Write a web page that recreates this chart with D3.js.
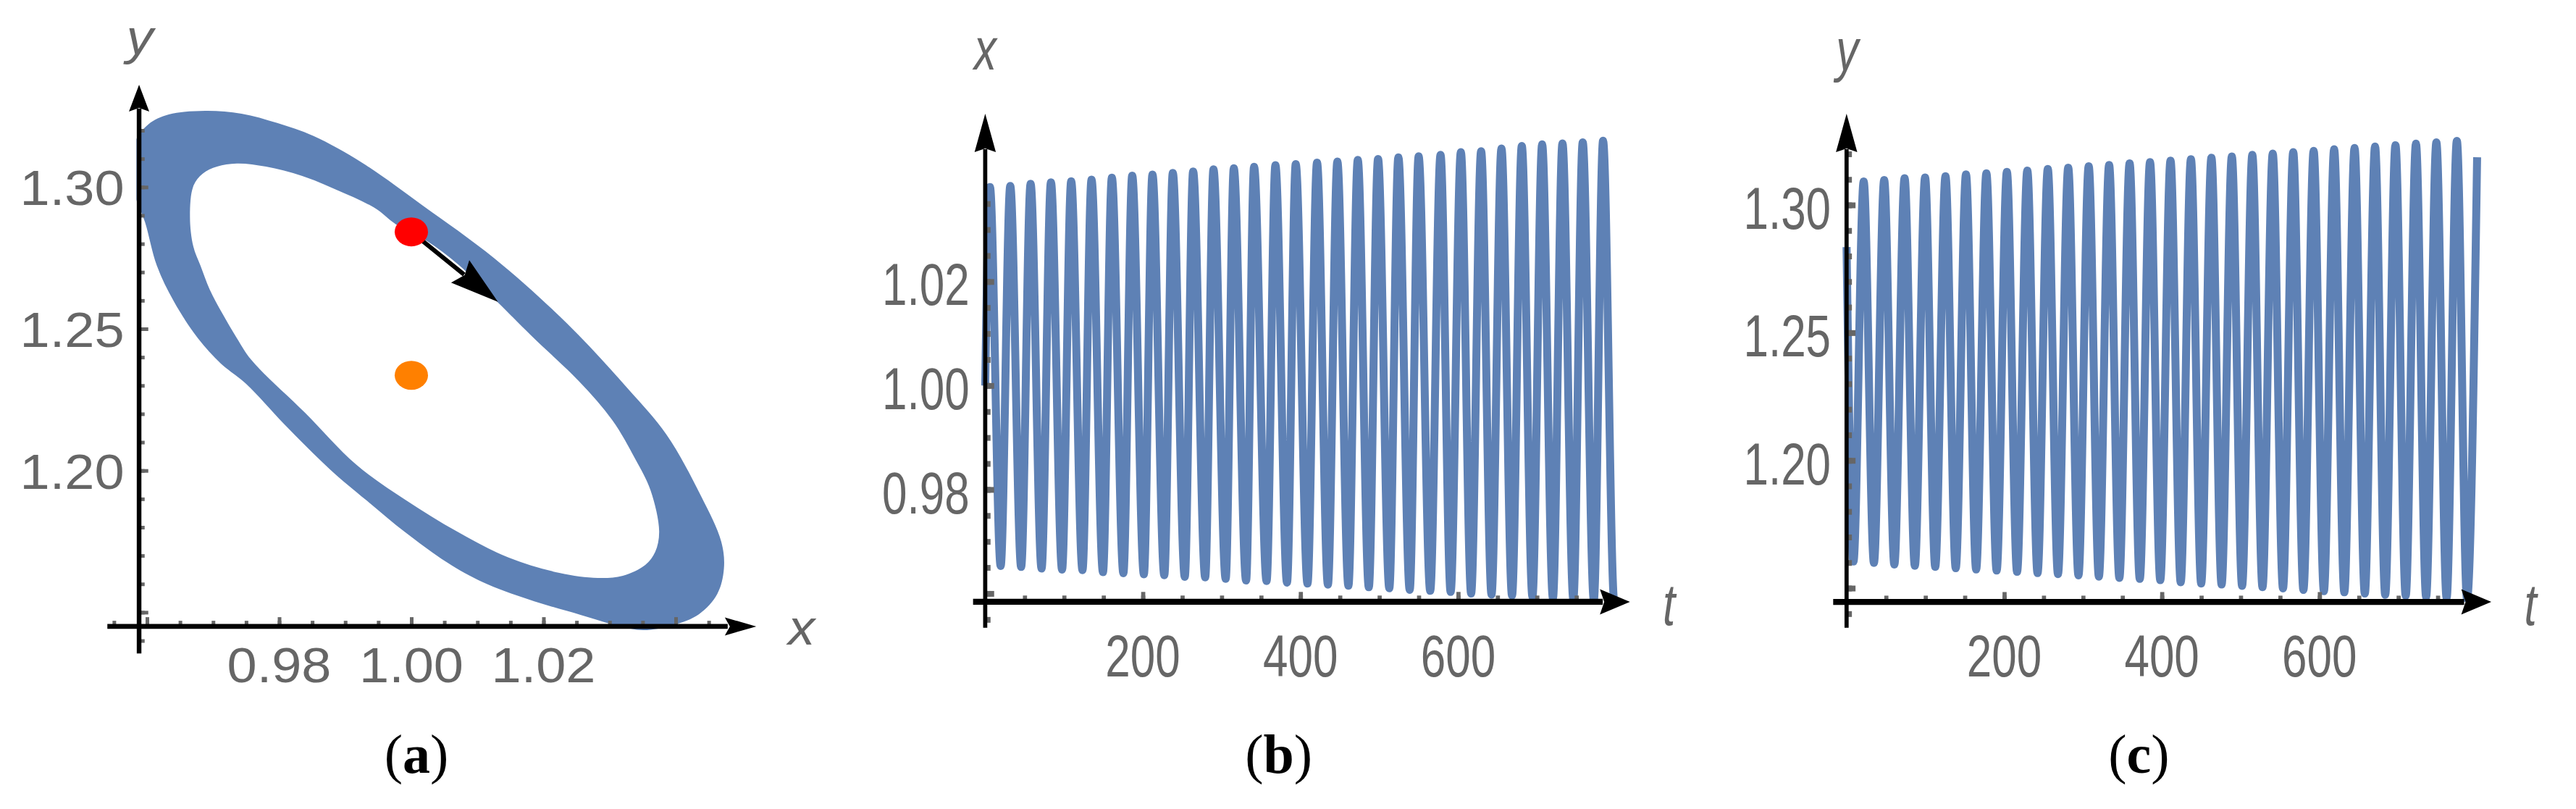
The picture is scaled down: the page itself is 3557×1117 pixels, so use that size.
<!DOCTYPE html>
<html>
<head>
<meta charset="utf-8">
<script src="https://cdn.jsdelivr.net/npm/d3@7"></script>
<style>
  body { margin: 0; background: #fff; }
  svg { display: block; }
</style>
</head>
<body>
<div class="container"></div>
<script>
// ---------------- data ----------------

// (a) phase plane: edges of the band swept out by the orbit, [x, y]
var ringOuter = [
  [0.9633,1.3256],[0.9688,1.3269],[0.9743,1.3259],[0.9797,1.3226],[0.9852,1.3180],
  [0.9926,1.3085],[1.0016,1.2937],[1.0126,1.2748],[1.0236,1.2518],[1.0328,1.2288],
  [1.0386,1.2127],[1.0438,1.1912],[1.0469,1.1749],[1.0473,1.1654],[1.0463,1.1565],
  [1.0435,1.1493],[1.0396,1.1455],[1.0351,1.1437],[1.0312,1.1453],[1.0256,1.1491],
  [1.0186,1.1539],[1.0116,1.1598],[1.0060,1.1667],[0.9992,1.1780],[0.9931,1.1897],
  [0.9877,1.2004],[0.9808,1.2163],[0.9750,1.2306],[0.9712,1.2377],[0.9677,1.2467],
  [0.9641,1.2595],[0.9615,1.2722],[0.9597,1.2876],[0.9580,1.2988],[0.9580,1.3149],
  [0.9602,1.3221]
];
var ringInner = [
  [0.9706,1.3072],[0.9736,1.3083],[0.9780,1.3072],[0.9835,1.3039],[0.9889,1.2988],
  [0.9944,1.2927],[0.9977,1.2868],[1.0024,1.2809],[1.0071,1.2727],[1.0130,1.2595],
  [1.0181,1.2477],[1.0254,1.2314],[1.0304,1.2178],[1.0339,1.2040],[1.0362,1.1930],
  [1.0375,1.1785],[1.0369,1.1713],[1.0354,1.1667],[1.0320,1.1629],[1.0282,1.1621],
  [1.0224,1.1639],[1.0147,1.1693],[1.0069,1.1785],[0.9992,1.1895],[0.9916,1.2022],
  [0.9839,1.2204],[0.9758,1.2390],[0.9736,1.2467],[0.9714,1.2554],[0.9695,1.2638],
  [0.9681,1.2722],[0.9670,1.2791],[0.9665,1.2894],[0.9670,1.3003],[0.9684,1.3047]
];
var startPoint = [1.0000, 1.2842];   // red dot
var fixedPoint = [1.0000, 1.2336];   // orange dot
var arrowTip   = [1.0131, 1.2595];

// (b) x(t)
var xStart = [0, 1.0000];
var xPeakT = [6.0,31.8,57.6,83.4,109.1,134.9,160.7,186.5,212.2,238.0,263.8,289.6,315.4,341.1,
  368.2,394.0,421.0,446.8,472.7,498.4,524.2,549.9,577.7,603.5,629.2,655.0,680.8,706.6,732.4,758.1,783.9];
var xPeak = [1.0382,1.0384,1.0388,1.0391,1.0393,1.0396,1.0400,1.0404,1.0406,1.0409,1.0412,
  1.0416,1.0418,1.0421,1.0424,1.0426,1.0429,1.0431,1.0434,1.0436,1.0439,1.0441,1.0444,1.0449,
  1.0451,1.0456,1.0461,1.0464,1.0466,1.0468,1.0471];
var xTroughT = [19.6,45.6,71.5,97.5,123.4,149.4,175.3,201.3,227.2,253.2,279.1,305.1,331.0,357.0,
  382.9,408.9,434.8,460.8,486.7,512.7,538.6,564.6,590.5,616.5,642.4,668.4,694.3,720.3,746.2,772.2,798.1];
var xTrough = [0.9653,0.9651,0.9648,0.9646,0.9645,0.9641,0.9639,0.9637,0.9635,0.9632,0.9631,
  0.9628,0.9625,0.9624,0.9621,0.9619,0.9617,0.9615,0.9612,0.9610,0.9607,0.9605,0.9603,0.9600,
  0.9598,0.9596,0.9594,0.9591,0.9589,0.9587,0.9585];
var xEnd = [800, 0.9586];

// (c) y(t)
var yStart = [0, 1.2835];
var yTroughT = [8.7,34.7,60.6,86.6,112.5,138.5,164.4,190.4,216.3,242.3,268.2,294.2,320.1,346.1,
  372.0,398.0,423.9,449.9,475.8,501.8,527.7,553.7,579.6,605.6,631.5,657.5,683.4,709.4,735.3,761.3,787.2];
var yTrough = [1.1604,1.1599,1.1592,1.1587,1.1583,1.1578,1.1573,1.1569,1.1564,1.1559,1.1555,
  1.1550,1.1545,1.1540,1.1536,1.1531,1.1523,1.1518,1.1514,1.1509,1.1504,1.1499,1.1493,1.1488,
  1.1484,1.1479,1.1474,1.1470,1.1466,1.1462,1.1458];
var yPeakT = [21.7,47.7,73.6,99.6,125.5,151.5,177.4,203.4,229.3,255.3,281.2,307.2,333.1,359.1,
  385.0,411.0,436.9,462.9,488.8,514.8,540.7,566.7,592.6,618.6,644.5,670.5,696.4,722.4,748.3,774.3];
var yPeak = [1.3092,1.3098,1.3105,1.3108,1.3113,1.3120,1.3124,1.3130,1.3135,1.3141,1.3146,
  1.3152,1.3157,1.3163,1.3168,1.3174,1.3179,1.3185,1.3190,1.3196,1.3201,1.3207,1.3212,1.3218,
  1.3223,1.3229,1.3234,1.3240,1.3245,1.3251];
var yEnd = [800, 1.3187];

// tick labels
var aXLabels = [0.98, 1.00, 1.02];
var aYLabels = [1.20, 1.25, 1.30];
var tLabels  = [200, 400, 600];
var bYLabels = [0.98, 1.00, 1.02];
var cYLabels = [1.20, 1.25, 1.30];
var captions = ["a", "b", "c"];

// ---------------- drawing ----------------
var W = 3557, H = 1117;
var blue = "#5e81b5", grey = "#666666";

var svg = d3.select("div.container").append("svg")
    .attr("width", W)
    .attr("height", H);
svg.append("rect").attr("width", W).attr("height", H).attr("fill", "#fff");

var sans = "'Liberation Sans', Arial, Helvetica, sans-serif";

function scaledText(g, str, x, y, o) {
  return g.append("text")
      .attr("transform", "translate(" + x + "," + y + ") scale(1," + o.sy + ")")
      .attr("text-anchor", o.anchor || "middle")
      .attr("font-family", sans)
      .attr("font-size", o.fs)
      .attr("font-style", o.italic ? "italic" : "normal")
      .attr("fill", grey)
      .text(str);
}

function arrowHead(g, tip, dir, len, half, notch) {
  var nx = -dir[1], ny = dir[0];
  var bx = tip[0] - dir[0] * len, by = tip[1] - dir[1] * len;
  var pts = [tip,
    [bx + nx * half, by + ny * half],
    [bx + dir[0] * notch, by + dir[1] * notch],
    [bx - nx * half, by - ny * half]];
  g.append("path")
      .attr("d", "M" + pts.map(function(p) { return p[0] + "," + p[1]; }).join("L") + "Z")
      .attr("fill", "#000");
}

// frame: ticks, axis lines with arrows, tick labels
function drawFrame(g, p) {
  var ox = p.x(p.origin[0]), oy = p.y(p.origin[1]);

  // x ticks (pointing up)
  [[p.xMinor, 4.5], [p.xMajor, 9.5]].forEach(function(s) {
    g.append("g")
        .attr("transform", "translate(0," + oy + ")")
        .call(d3.axisTop(p.x).tickValues(s[0]).tickSize(p.xAxisW / 2 + s[1]).tickFormat(""))
        .call(function(a) { a.select(".domain").remove(); })
        .selectAll("line")
        .attr("stroke", grey)
        .attr("stroke-width", p.xTickW);
  });
  // y ticks (pointing right)
  [[p.yMinor, 4.5], [p.yMajor, 9.5]].forEach(function(s) {
    g.append("g")
        .attr("transform", "translate(" + ox + ",0)")
        .call(d3.axisRight(p.y).tickValues(s[0]).tickSize(p.yAxisW / 2 + s[1]).tickFormat(""))
        .call(function(a) { a.select(".domain").remove(); })
        .selectAll("line")
        .attr("stroke", grey)
        .attr("stroke-width", p.yTickW);
  });

  // axis lines
  var xTipPx = p.x(p.xRange[1]), yTipPx = p.y(p.yRange[1]);
  g.append("line")
      .attr("x1", p.x(p.xRange[0])).attr("x2", xTipPx - p.xHead[0] + 4)
      .attr("y1", oy).attr("y2", oy)
      .attr("stroke", "#000").attr("stroke-width", p.xAxisW);
  g.append("line")
      .attr("x1", ox).attr("x2", ox)
      .attr("y1", p.y(p.yRange[0])).attr("y2", yTipPx + p.yHead[0] - 4)
      .attr("stroke", "#000").attr("stroke-width", p.yAxisW);
  arrowHead(g, [xTipPx, oy], [1, 0], p.xHead[0], p.xHead[1], p.xHead[2]);
  arrowHead(g, [ox, yTipPx], [0, -1], p.yHead[0], p.yHead[1], p.yHead[2]);

  // tick labels
  p.xLabels.forEach(function(v) {
    scaledText(g, p.xFmt(v), p.x(v), oy + p.xLabelDy, {fs: p.fs, sy: p.sy});
  });
  p.yLabels.forEach(function(v) {
    scaledText(g, p.yFmt(v), ox - p.yLabelDx, p.y(v) + p.yLabelDy, {fs: p.fs, sy: p.sy, anchor: "end"});
  });

  // axis names
  scaledText(g, p.xName, xTipPx + p.xNamePos[0], oy + p.xNamePos[1],
      {fs: p.fs, sy: p.sy, italic: true, anchor: p.xNameAnchor || "middle"});
  scaledText(g, p.yName, ox + p.yNamePos[0], yTipPx + p.yNamePos[1],
      {fs: p.fs, sy: p.sy, italic: true});
}

function clipRect(id, x, y, w, h) {
  svg.append("clipPath").attr("id", id)
    .append("rect").attr("x", x).attr("y", y).attr("width", w).attr("height", h);
  return "url(#" + id + ")";
}

var fmt2 = d3.format(".2f"), fmt0 = d3.format("d");

// ---------- panel (a) ----------
var pa = {
  x: d3.scaleLinear().domain([0.98, 1.02]).range([385.5, 750.5]),
  y: d3.scaleLinear().domain([1.20, 1.30]).range([649.7, 258.3]),
  origin: [0.9588, 1.1450],
  xRange: [0.9540, 1.0522], yRange: [1.1355, 1.3361],
  xMinor: d3.range(0.955, 1.0451, 0.005), xMajor: [0.96, 0.98, 1.00, 1.02, 1.04],
  yMinor: d3.range(1.14, 1.3201, 0.01),   yMajor: [1.15, 1.20, 1.25, 1.30],
  xAxisW: 6.7, yAxisW: 6.4, xTickW: 5, yTickW: 5,
  xHead: [43.5, 12.5, 7], yHead: [37, 14, 5],
  fs: 74, sy: 0.92,
  xLabels: aXLabels, yLabels: aYLabels, xFmt: fmt2, yFmt: fmt2,
  xLabelDy: 77, yLabelDx: 20.5, yLabelDy: 25,
  xName: "x", xNamePos: [44, 25], xNameAnchor: "start",
  yName: "y", yNamePos: [1, -42]
};

var ga = svg.append("g");
var ringLine = d3.line()
    .x(function(d) { return pa.x(d[0]); })
    .y(function(d) { return pa.y(d[1]); })
    .curve(d3.curveCatmullRomClosed);
ga.append("path")
    .attr("d", ringLine(ringOuter) + ringLine(ringInner))
    .attr("fill", blue)
    .attr("fill-rule", "evenodd")
    .attr("clip-path", clipRect("clipA", pa.x(0.9584), 0, 1200, 1117));

// red start point, orange equilibrium, direction arrow
var s0 = [pa.x(startPoint[0]), pa.y(startPoint[1])];
var s1 = [pa.x(arrowTip[0]), pa.y(arrowTip[1])];
var dl = Math.hypot(s1[0] - s0[0], s1[1] - s0[1]);
var dir = [(s1[0] - s0[0]) / dl, (s1[1] - s0[1]) / dl];
ga.append("line")
    .attr("x1", s0[0]).attr("y1", s0[1])
    .attr("x2", s1[0] - dir[0] * 60).attr("y2", s1[1] - dir[1] * 60)
    .attr("stroke", "#000").attr("stroke-width", 6);
arrowHead(ga, s1, dir, 67, 20, 8);
ga.append("ellipse")
    .attr("cx", s0[0]).attr("cy", s0[1]).attr("rx", 23).attr("ry", 20)
    .attr("fill", "#ff0000");
ga.append("ellipse")
    .attr("cx", pa.x(fixedPoint[0])).attr("cy", pa.y(fixedPoint[1])).attr("rx", 23).attr("ry", 20)
    .attr("fill", "#ff8000");

drawFrame(ga, pa);

// ---------- time series panels ----------
function series(start, pT, pV, qT, qV, end) {
  var pts = [start, end];
  pT.forEach(function(t, i) { pts.push([t, pV[i]]); });
  qT.forEach(function(t, i) { pts.push([t, qV[i]]); });
  pts.sort(function(a, b) { return a[0] - b[0]; });
  return pts;
}

function timePanel(p, data, clipId) {
  var g = svg.append("g");
  var oy = p.y(p.origin[1]);
  var line = d3.line()
      .x(function(d) { return p.x(d[0]); })
      .y(function(d) { return p.y(d[1]); })
      .curve(d3.curveMonotoneX);
  g.append("path")
      .datum(data)
      .attr("fill", "none")
      .attr("stroke", blue)
      .attr("stroke-width", 11)
      .attr("stroke-linejoin", "round")
      .attr("d", line)
      .attr("clip-path", clipRect(clipId, p.x(-30), 0, 1200, oy));
  drawFrame(g, p);
}

var common = {
  xRange: null,
  xMinor: d3.range(50, 751, 50), xMajor: [200, 400, 600],
  xAxisW: 8.3, yAxisW: 5.7, xTickW: 5.7, yTickW: 8,
  xHead: [41.5, 17.5, 6], yHead: [53, 14.7, 5],
  fs: 62, sy: 1.33,
  xLabels: tLabels, xFmt: fmt0, yFmt: fmt2,
  xLabelDy: 103, yLabelDx: 21.7,
  xName: "t", xNamePos: [54, 32]
};

var pb = Object.assign({}, common, {
  x: d3.scaleLinear().domain([0, 600]).range([1360.4, 2013.4]),
  y: d3.scaleLinear().domain([0.98, 1.02]).range([675.9, 388.8]),
  origin: [0, 0.9584],
  xRange: [-15.4, 818], yRange: [0.9534, 1.0523],
  yMinor: d3.range(0.955, 1.0351, 0.005), yMajor: [0.96, 0.98, 1.00, 1.02],
  yLabels: bYLabels, yLabelDy: 32.6,
  yName: "x", yNamePos: [0, -60.5]
});

var pc = Object.assign({}, common, {
  x: d3.scaleLinear().domain([0, 600]).range([2549.8, 3202.8]),
  y: d3.scaleLinear().domain([1.20, 1.30]).range([635.7, 283]),
  origin: [0, 1.1446],
  xRange: [-17, 818], yRange: [1.1345, 1.3357],
  yMinor: d3.range(1.14, 1.3201, 0.01), yMajor: [1.15, 1.20, 1.25, 1.30],
  yLabels: cYLabels, yLabelDy: 33,
  yName: "y", yNamePos: [1, -60]
});

timePanel(pb, series(xStart, xPeakT, xPeak, xTroughT, xTrough, xEnd), "clipB");
timePanel(pc, series(yStart, yPeakT, yPeak, yTroughT, yTrough, yEnd), "clipC");

// ---------- captions ----------
var capX = [575, 1765.6, 2953.4];
captions.forEach(function(c, i) {
  var t = svg.append("text")
      .attr("x", capX[i]).attr("y", 1067)
      .attr("text-anchor", "middle")
      .attr("font-family", "'Liberation Serif', 'Times New Roman', serif")
      .attr("font-size", 76)
      .attr("fill", "#000");
  t.append("tspan").text("(");
  t.append("tspan").attr("font-weight", "bold").text(c);
  t.append("tspan").text(")");
});
</script>
</body>
</html>
